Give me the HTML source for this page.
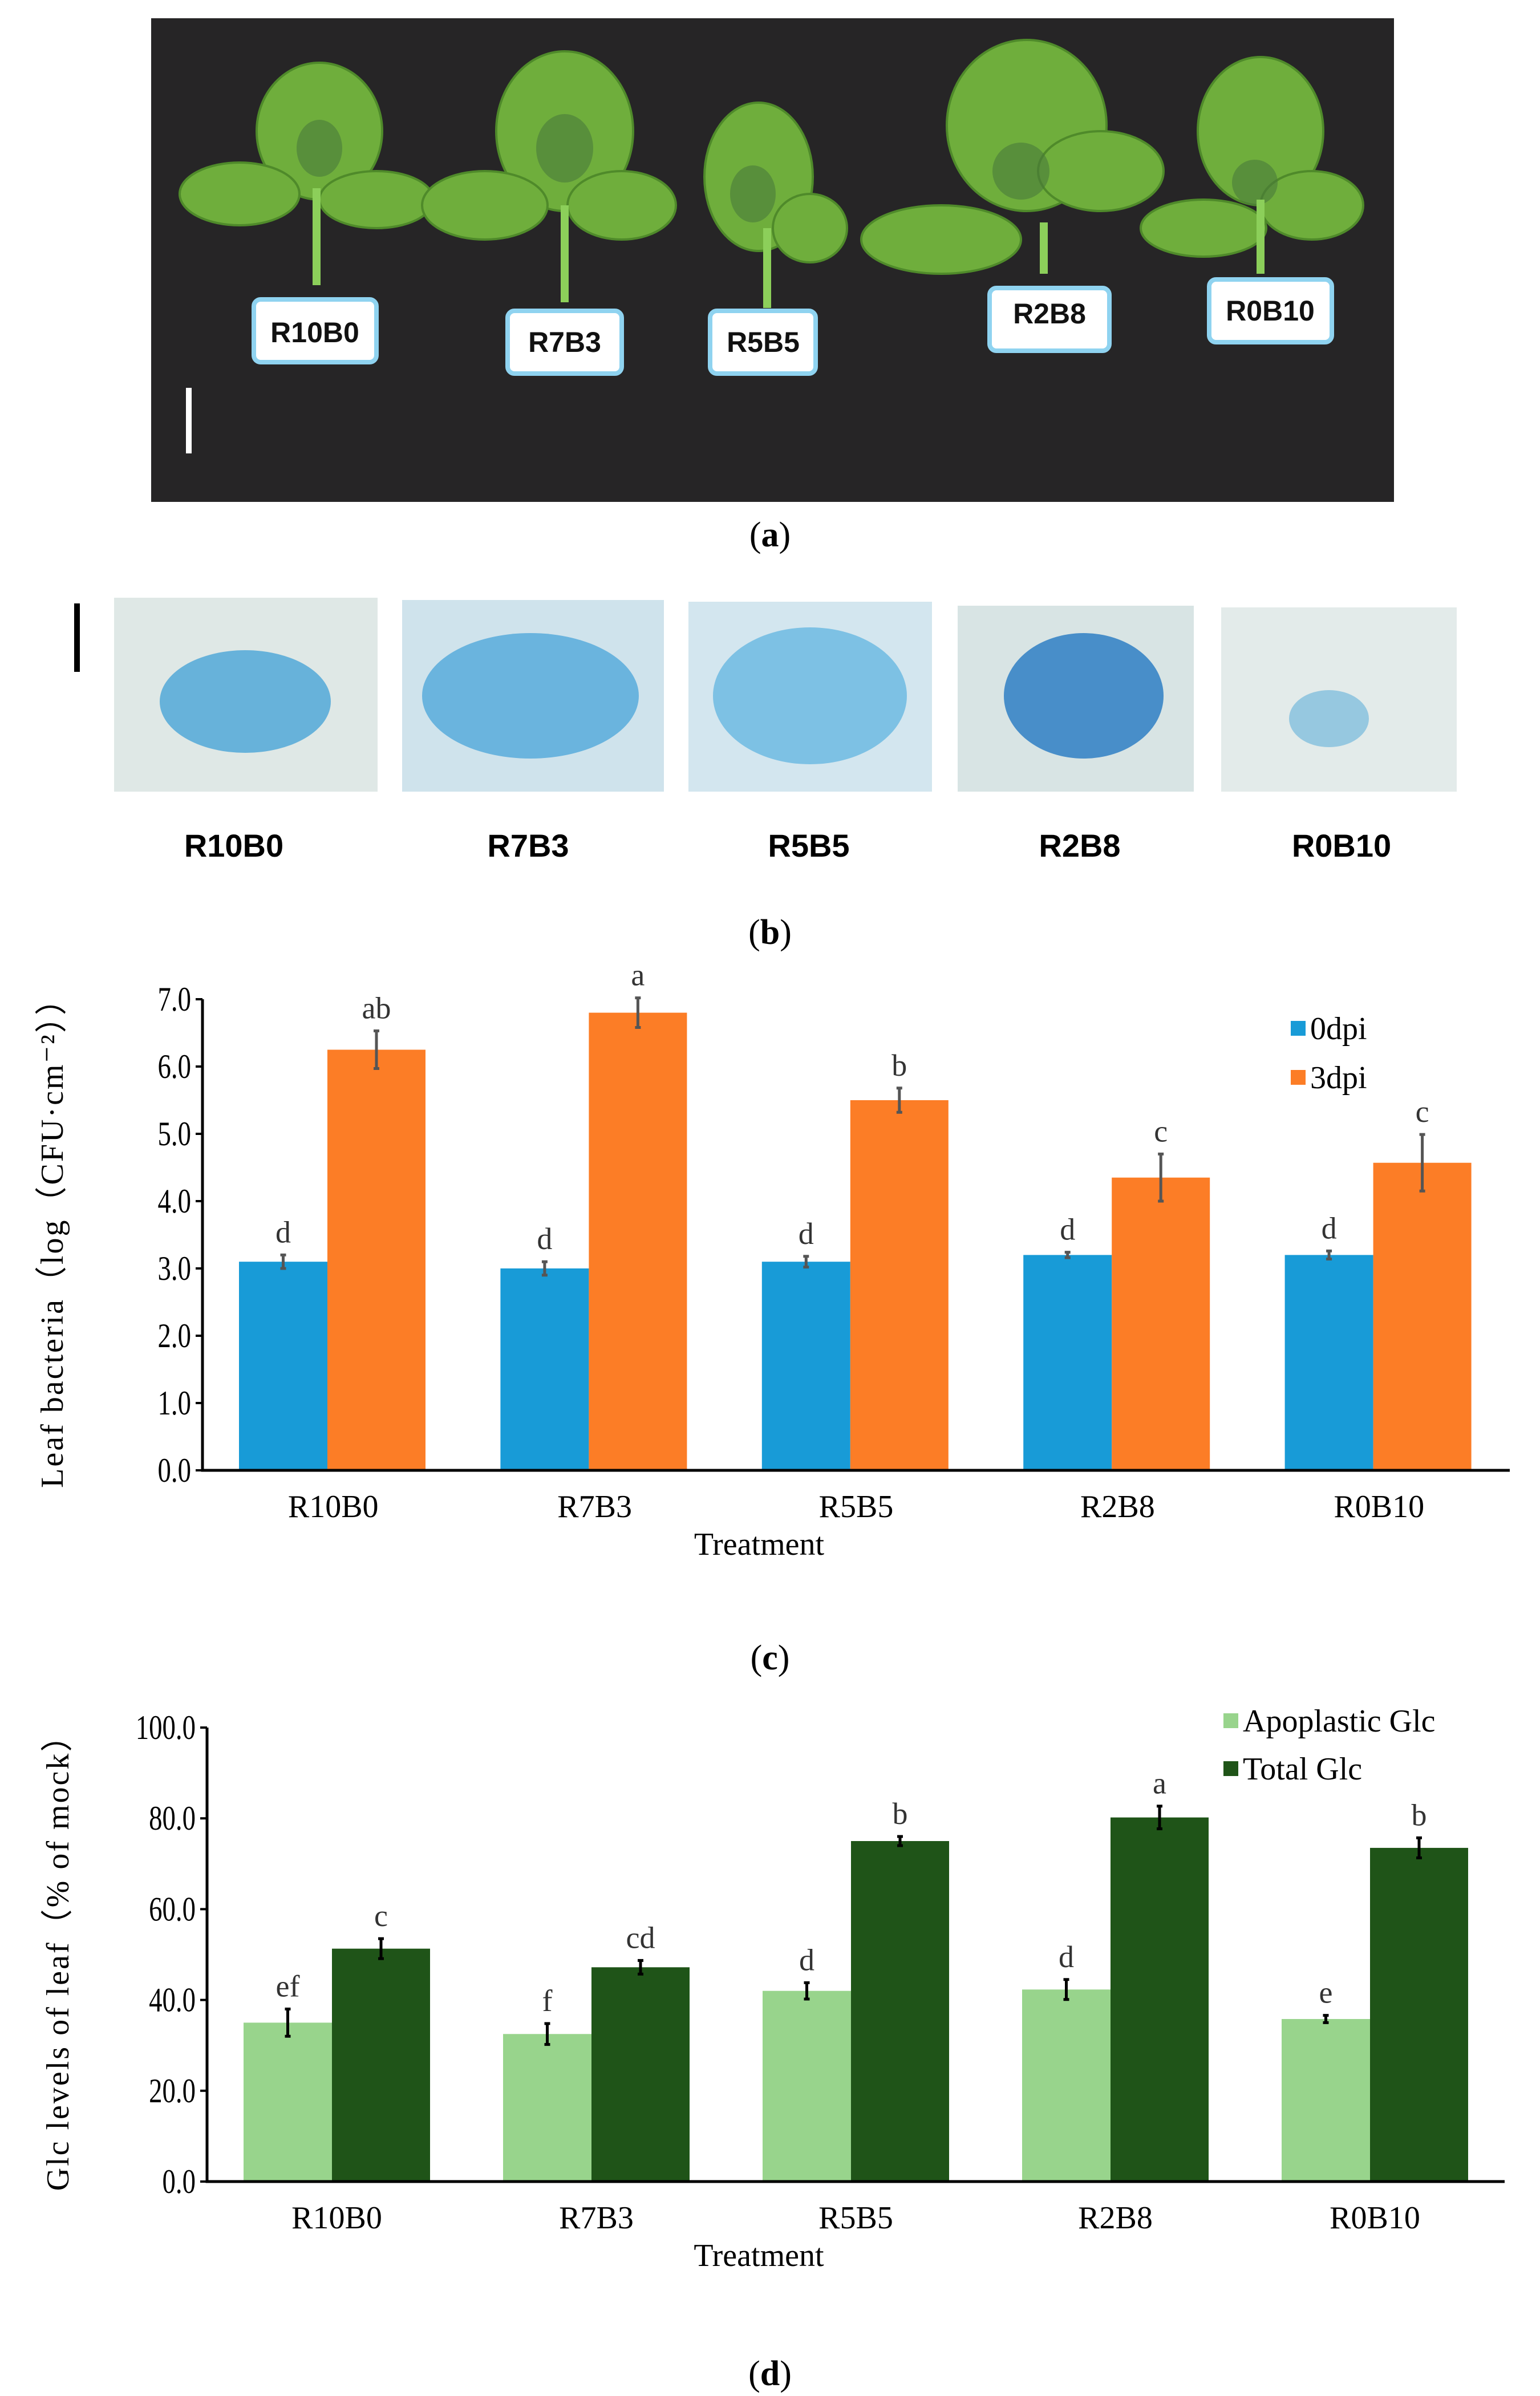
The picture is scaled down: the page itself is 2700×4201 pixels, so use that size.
<!DOCTYPE html>
<html><head><meta charset="utf-8"><style>
html,body{margin:0;padding:0;background:#fff;}
svg{display:block;}
text{font-family:"Liberation Serif",serif;}
.sans text{font-family:"Liberation Sans",sans-serif;font-weight:bold;}
</style></head><body>
<svg id="fig" width="2700" height="4201" viewBox="0 0 2700 4201">
<g>
<rect x="265" y="32" width="2179" height="848" fill="#262526"/>
<g fill="#6fae3c" stroke="#4f8a2a" stroke-width="4">
<ellipse cx="560" cy="230" rx="110" ry="120"/><ellipse cx="420" cy="340" rx="105" ry="55"/><ellipse cx="660" cy="350" rx="100" ry="50"/>
<ellipse cx="990" cy="230" rx="120" ry="140"/><ellipse cx="850" cy="360" rx="110" ry="60"/><ellipse cx="1090" cy="360" rx="95" ry="60"/>
<ellipse cx="1330" cy="310" rx="95" ry="130"/><ellipse cx="1420" cy="400" rx="65" ry="60"/>
<ellipse cx="1800" cy="220" rx="140" ry="150"/><ellipse cx="1650" cy="420" rx="140" ry="60"/><ellipse cx="1930" cy="300" rx="110" ry="70"/>
<ellipse cx="2210" cy="230" rx="110" ry="130"/><ellipse cx="2110" cy="400" rx="110" ry="50"/><ellipse cx="2300" cy="360" rx="90" ry="60"/>
</g>
<g fill="#4a7a3a" opacity="0.6"><ellipse cx="560" cy="260" rx="40" ry="50"/><ellipse cx="990" cy="260" rx="50" ry="60"/><ellipse cx="1320" cy="340" rx="40" ry="50"/><ellipse cx="1790" cy="300" rx="50" ry="50"/><ellipse cx="2200" cy="320" rx="40" ry="40"/></g>
<g stroke="#8ccf5a" stroke-width="14"><line x1="555" y1="330" x2="555" y2="500"/><line x1="990" y1="360" x2="990" y2="530"/><line x1="1345" y1="400" x2="1345" y2="540"/><line x1="1830" y1="390" x2="1830" y2="480"/><line x1="2210" y1="350" x2="2210" y2="480"/></g>
<g fill="#fff" stroke="#8fd3f0" stroke-width="8">
<rect x="445" y="525" width="215" height="110" rx="12"/><rect x="890" y="545" width="200" height="110" rx="12"/><rect x="1245" y="545" width="185" height="110" rx="12"/><rect x="1735" y="505" width="210" height="110" rx="12"/><rect x="2120" y="490" width="215" height="110" rx="12"/>
</g>
<g class="sans" font-size="50" fill="#111" text-anchor="middle">
<text x="552" y="600">R10B0</text>
<text x="990" y="617">R7B3</text>
<text x="1338" y="617">R5B5</text>
<text x="1840" y="567">R2B8</text>
<text x="2227" y="562">R0B10</text>
</g>
<rect x="326" y="680" width="10" height="115" fill="#fff"/>
</g>
<text x="1350" y="958" font-size="62" text-anchor="middle">(<tspan font-weight="bold">a</tspan>)</text>
<g>
<rect x="130" y="1058" width="10" height="120" fill="#000"/>
<rect x="200" y="1048" width="462" height="340" fill="#dfe8e6"/><ellipse cx="430" cy="1230" rx="150" ry="90" fill="#3fa0d6" opacity="0.75"/>
<rect x="705" y="1052" width="459" height="336" fill="#cfe3ec"/><ellipse cx="930" cy="1220" rx="190" ry="110" fill="#3ea0d8" opacity="0.7"/>
<rect x="1207" y="1055" width="427" height="333" fill="#d3e6ef"/><ellipse cx="1420" cy="1220" rx="170" ry="120" fill="#44a8dc" opacity="0.6"/>
<rect x="1679" y="1062" width="414" height="326" fill="#d8e4e4"/><ellipse cx="1900" cy="1220" rx="140" ry="110" fill="#2f7fc4" opacity="0.85"/>
<rect x="2141" y="1065" width="413" height="323" fill="#e3ebea"/><ellipse cx="2330" cy="1260" rx="70" ry="50" fill="#4aa6d6" opacity="0.5"/>
<g class="sans" font-size="56" fill="#000" text-anchor="middle">
<text x="410" y="1502">R10B0</text>
<text x="926" y="1502">R7B3</text>
<text x="1418" y="1502">R5B5</text>
<text x="1893" y="1502">R2B8</text>
<text x="2352" y="1502">R0B10</text>
</g>
</g>
<text x="1350" y="1655" font-size="62" text-anchor="middle">(<tspan font-weight="bold">b</tspan>)</text>
<g id="chartC"></g>
<text x="1350" y="2927" font-size="62" text-anchor="middle">(<tspan font-weight="bold">c</tspan>)</text>
<g id="chartD"></g>
<text x="1350" y="4182" font-size="62" text-anchor="middle">(<tspan font-weight="bold">d</tspan>)</text>
</svg>
<script>
const categories = ["R10B0","R7B3","R5B5","R2B8","R0B10"];
const c0dpi = [3.1,3.0,3.1,3.2,3.2];
const c0dpiErr = [0.1,0.1,0.08,0.04,0.06];
const c0dpiLetters = ["d","d","d","d","d"];
const c3dpi = [6.25,6.8,5.5,4.35,4.57];
const c3dpiErr = [0.28,0.22,0.18,0.35,0.42];
const c3dpiLetters = ["ab","a","b","c","c"];
const cTicks = ["0.0","1.0","2.0","3.0","4.0","5.0","6.0","7.0"];
const dApo = [35,32.5,42,42.3,35.8];
const dApoErr = [3,2.3,1.8,2.2,0.8];
const dApoLetters = ["ef","f","d","d","e"];
const dTot = [51.3,47.2,75,80.2,73.5];
const dTotErr = [2.2,1.5,1,2.5,2.2];
const dTotLetters = ["c","cd","b","a","b"];
const dTicks = ["0.0","20.0","40.0","60.0","80.0","100.0"];
const NS="http://www.w3.org/2000/svg";
function mk(parent,tag,attrs,txt){const e=document.createElementNS(NS,tag);for(const k in attrs)e.setAttribute(k,attrs[k]);if(txt!==undefined)e.textContent=txt;parent.appendChild(e);return e;}
function chart(g,cfg){
  const {x0,x1,yTop,yBot,max,ticks,s1,e1,l1,s2,e2,l2,col1,col2,name1,name2,legX,legY1,legY2,title,titleX,errCol}=cfg;
  const ys=v=>yBot-(v/max)*(yBot-yTop);
  const cw=(x1-x0)/categories.length;
  const xs=i=>x0+i*cw;
  ticks.forEach(t=>{const v=parseFloat(t);
    const tl=mk(g,'text',{x:x0-20,y:ys(v)+20,'font-size':60,'text-anchor':'end',transform:`translate(${x0-20} 0) scale(0.78 1) translate(${-(x0-20)} 0)`},t);
    
    
    const tk=mk(g,'line',{x1:x0-12,x2:x0,y1:ys(v),y2:ys(v),stroke:'#000','stroke-width':4});
    
    
  });
  categories.forEach((c,i)=>{
    const bx=xs(i)+64, w1=155, w2=172;
    [[s1,e1,l1,col1,bx,w1,'bar-'+name1],[s2,e2,l2,col2,bx+w1,w2,'bar-'+name2]].forEach(([s,e,l,col,x,w,nm])=>{
      const r=mk(g,'rect',{x:x,y:ys(s[i]),width:w,height:yBot-ys(s[i]),fill:col});
      
      
      const cx=x+w/2;
      const eb=mk(g,'path',{d:`M${cx},${ys(s[i]+e[i])}V${ys(s[i]-e[i])}M${cx-5},${ys(s[i]+e[i])}H${cx+5}M${cx-5},${ys(s[i]-e[i])}H${cx+5}`,stroke:errCol,'stroke-width':5,fill:'none'});
      
      
      const lt=mk(g,'text',{x:cx,y:ys(s[i]+e[i])-22,'font-size':54,'text-anchor':'middle',fill:'#333'},l[i]);
      
      
    });
    const xl=mk(g,'text',{x:xs(i)+cw/2,y:yBot+82,'font-size':56,'text-anchor':'middle'},c);
    
    
  });
  const ax=mk(g,'path',{d:`M${x0},${yTop}V${yBot}H${x1}`,stroke:'#000','stroke-width':5,fill:'none'});
  
  
  const xt=mk(g,'text',{x:(x0+x1)/2-170,y:yBot+148,'font-size':56,'text-anchor':'middle'},'Treatment');
  
  
  const yt=mk(g,'text',{x:0,y:0,'font-size':56,'text-anchor':'middle','letter-spacing':'3',transform:`translate(${titleX} ${(yTop+yBot)/2}) rotate(-90)`},title);
  
  
  [[col1,name1,legY1],[col2,name2,legY2]].forEach(([col,nm,y])=>{
    const lg=mk(g,'g',{});
    
    
    mk(lg,'rect',{x:legX,y:y-18,width:26,height:26,fill:col});
    mk(lg,'text',{x:legX+34,y:y+14,'font-size':56},nm);
  });
}
chart(document.getElementById('chartC'),{x0:355,x1:2647,yTop:1752,yBot:2578,max:7,ticks:cTicks,s1:c0dpi,e1:c0dpiErr,l1:c0dpiLetters,s2:c3dpi,e2:c3dpiErr,l2:c3dpiLetters,col1:'#189bd7',col2:'#fc7d26',name1:'0dpi',name2:'3dpi',legX:2263,legY1:1808,legY2:1894,title:'Leaf bacteria（log（CFU·cm⁻²））',titleX:110,errCol:'#555'});
chart(document.getElementById('chartD'),{x0:363,x1:2638,yTop:3029,yBot:3825,max:100,ticks:dTicks,s1:dApo,e1:dApoErr,l1:dApoLetters,s2:dTot,e2:dTotErr,l2:dTotLetters,col1:'#98d48c',col2:'#1f5418',name1:'Apoplastic Glc',name2:'Total Glc',legX:2145,legY1:3022,legY2:3106,title:'Glc levels of leaf（% of mock）',titleX:120,errCol:'#000'});
</script>
</body></html>
